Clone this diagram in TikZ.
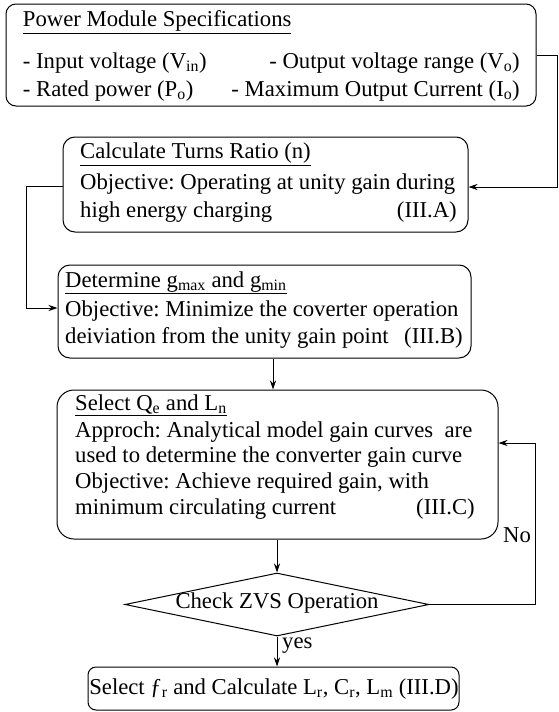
\documentclass[tikz,border=0pt]{standalone}
\usepackage{fontspec}
\setmainfont{Liberation Serif}
\usetikzlibrary{arrows.meta,shapes.geometric}
\newcommand\sbs[1]{\textsubscript{#1}}
\frenchspacing
\begin{document}
\begin{tikzpicture}[x=1pt,y=-1pt,
  every node/.style={font=\fontsize{22.7pt}{27pt}\selectfont\frenchspacing, inner sep=0pt},
  box/.style={draw, line width=1pt, rounded corners=#1},
  box/.default=10pt,
  conn/.style={line width=1pt, -{Stealth[length=9pt,width=6pt]}},
  txt/.style={anchor=base west},
  rtxt/.style={anchor=base east}]
\useasboundingbox (0,0) rectangle (558,712);

% boxes
\node[box=10pt, minimum width=530pt, minimum height=102pt] (b1) at (271,55) {};
\node[box=12pt, minimum width=405pt, minimum height=95pt] (b2) at (265.5,184.5) {};
\node[box=12pt, minimum width=413pt, minimum height=93pt] (b3) at (264.5,311.5) {};
\node[box=17pt, minimum width=441pt, minimum height=149pt] (b4) at (277.5,464.5) {};
\node[diamond, draw, line width=1pt, minimum width=304pt, minimum height=63pt] (d) at (277,604.5) {};
\node[box=8pt, minimum width=371pt, minimum height=43pt] (b5) at (273.5,688.5) {};

% box 1 text
\node[txt] (t1a) at (22.7,27) {\underline{Power Module Specifications}};
\node[txt] (t1b) at (22.7,68.5) {- Input voltage (V\sbs{in})};
\node[rtxt] (t1c) at (520,68.5) {- Output voltage range (V\sbs{o})};
\node[txt] (t1d) at (22.7,96) {- Rated power (P\sbs{o})};
\node[rtxt] (t1e) at (520,96) {- Maximum Output Current (I\sbs{o})};

% box 2 text
\node[txt] (t2a) at (80,158.5) {\underline{Calculate Turns Ratio (n)}};
\node[txt] (t2b) at (80,189) {Objective: Operating at unity gain during};
\node[txt] (t2c) at (80,217.7) {high energy charging};
\node[rtxt] (t2d) at (457,217.7) {(III.A)};

% box 3 text
\node[txt] (t3a) at (65,287) {\underline{Determine g\sbs{max} and g\sbs{min}}};
\node[txt] (t3b) at (65,316) {Objective: Minimize the coverter operation};
\node[txt] (t3c) at (65,343.5) {deiviation from the unity gain point};
\node[rtxt] (t3d) at (463,343.5) {(III.B)};

% box 4 text
\node[txt] (t4a) at (75,410) {\underline{Select Q\sbs{e} and L\sbs{n}}};
\node[txt] (t4b) at (75,437) {Approch: Analytical model gain curves\ \ are};
\node[txt] (t4c) at (75,462.5) {used to determine the converter gain curve};
\node[txt] (t4d) at (75,488.5) {Objective: Achieve required gain, with};
\node[txt] (t4e) at (75,514) {minimum circulating current};
\node[rtxt] (t4f) at (475,514) {(III.C)};

% diamond and last box text
\node (dt) at (277,603) {Check ZVS Operation};
\node (t5) at (274,689) {Select ƒ\sbs{r} and Calculate L\sbs{r}, C\sbs{r}, L\sbs{m} (III.D)};

% connectors
\coordinate (r1) at (557,55);
\coordinate (l1) at (26,0);
\coordinate (ax) at (273,0);
\coordinate (r2) at (535,0);
\coordinate (b2in) at ([yshift=-2.5pt]b2.east);
\coordinate (b2out) at ([yshift=-1.5pt]b2.west);
\coordinate (b3in) at ([yshift=3.5pt]b3.west);
\coordinate (b4in) at ([yshift=21.5pt]b4.east);
\draw[conn] (b1.east) -- (r1) |- (b2in);
\draw[conn] (b2out) -| (l1 |- b3in) -- (b3in);
\draw[conn] (b3.south -| ax) -- (b4.north -| ax);
\draw[conn] (b4.south -| d.north) -- (d.north);
\draw[conn] (d.south) -- (b5.north -| d.south);
\draw[conn] (d.east) -| (r2 |- b4in) -- (b4in);

\node (no) at (517,535) {No};
\node[anchor=west] (yes) at (282,646) {yes};
\end{tikzpicture}
\end{document}
